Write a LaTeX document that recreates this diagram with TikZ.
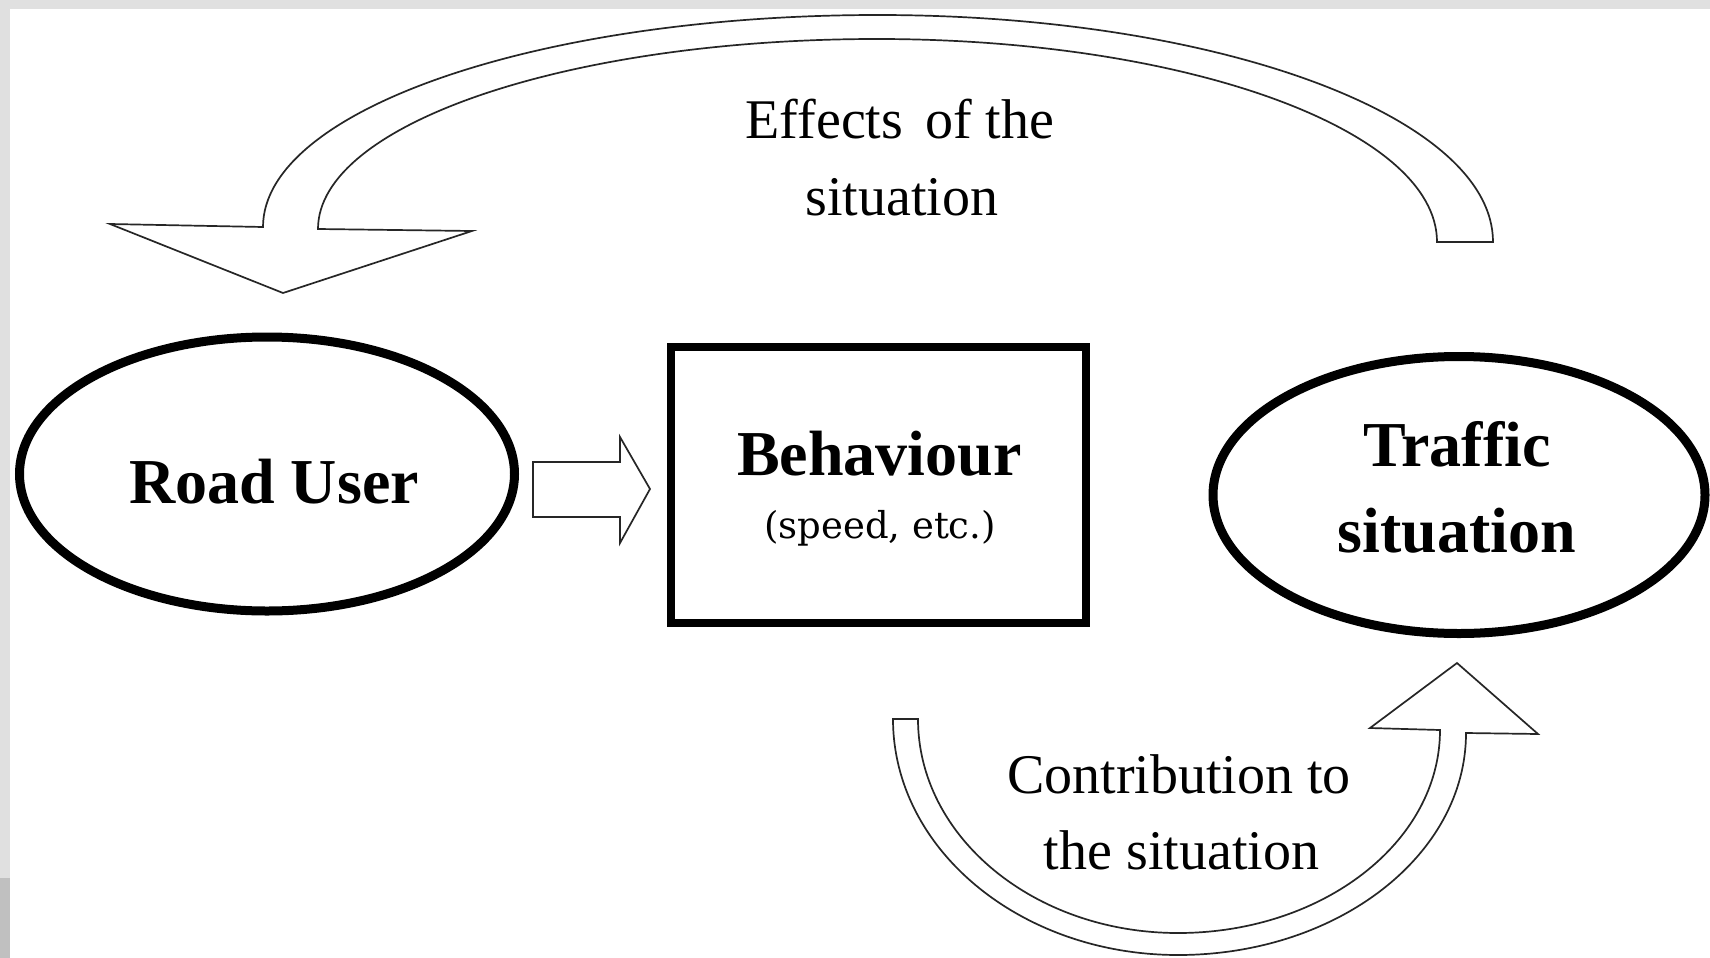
\documentclass[tikz,border=0pt]{standalone}
\usepackage{fontspec}
\setmainfont{Liberation Serif}
\newfontfamily\speedfont{DejaVu Serif}
\usetikzlibrary{shapes.geometric}
\definecolor{frameA}{HTML}{E0E0E0}
\definecolor{frameB}{HTML}{C0C0C0}
\definecolor{lineC}{HTML}{262626}
\tikzset{
  ovalbox/.style={draw=black, ellipse, line width=9pt, inner sep=0pt, fill=white},
  rectbox/.style={draw=black, rectangle, line width=8pt, inner sep=0pt, fill=white},
  bigtxt/.style={anchor=base, inner sep=0pt, font=\fontsize{64}{64}\selectfont\bfseries},
  labtxt/.style={anchor=base, inner sep=0pt, font=\fontsize{56}{56}\selectfont},
  smalltxt/.style={anchor=base, inner sep=0pt, font=\speedfont\fontsize{37}{37}\selectfont},
  blockarrow/.style={draw=lineC, line width=1.7pt, fill=white, line join=miter}
}
\begin{document}
\begin{tikzpicture}[x=1pt,y=-1pt]
\useasboundingbox (0,0) rectangle (1710,958);
\fill[white] (0,0) rectangle (1710,958);
\fill[frameA] (0,0) rectangle (1710,9);
\fill[frameA] (0,0) rectangle (10,878);
\fill[frameB] (0,878) rectangle (10,958);

% nodes
\node[ovalbox, minimum width=495pt, minimum height=274pt] (road) at (267,474) {};
\node[rectbox, minimum width=415pt, minimum height=276pt] (beh) at (878.5,485) {};
\node[ovalbox, minimum width=492pt, minimum height=277pt] (traffic) at (1459,495) {};

\node[bigtxt] (roadtxt) at (274,503) {Road User};
\node[bigtxt] (behtxt) at (879.5,475) {Behaviour};
\node[smalltxt] (speedtxt) at (880,538) {(speed, etc.)};
\node[bigtxt] (traffictxt) at (1457,466) {Traffic};
\node[bigtxt] (sittxt) at (1457,552) {situation};

% small arrow Road User -> Behaviour
\coordinate (sa1) at (533,462);
\draw[blockarrow] (sa1) -- (620,462) -- (620,437) -- (650,489) -- (620,543) -- (620,517) -- (533,517) -- cycle;

% top curved arrow (effects of the situation)
\draw[blockarrow] (1437,242) -- (1493,242)
  arc[start angle=0, end angle=-90, x radius=615, y radius=227]
  arc[start angle=-90, end angle=-180, x radius=615, y radius=212]
  -- (110,224) -- (283,293) -- (472,231) -- (318,229)
  arc[start angle=180, end angle=270, x radius=559, y radius=190]
  arc[start angle=270, end angle=360, x radius=560, y radius=203]
  -- cycle;

% bottom curved arrow (contribution to the situation)
\draw[blockarrow] (918,719) -- (893,719)
  arc[start angle=180, end angle=90, x radius=285, y radius=236]
  arc[start angle=90, end angle=0, x radius=288, y radius=222]
  -- (1538,734) -- (1457,663) -- (1370,728) -- (1440,730)
  arc[start angle=0, end angle=90, x radius=262, y radius=203]
  arc[start angle=90, end angle=180, x radius=260, y radius=214]
  -- cycle;

\node[labtxt] (eff1) at (900,138) {Effects\hspace{8pt} of the};
\node[labtxt] (eff2) at (902,215) {situation};
\node[labtxt] (con1) at (1179,793) {Contribution to};
\node[labtxt] (con2) at (1181.5,869) {the situation};
\end{tikzpicture}
\end{document}
